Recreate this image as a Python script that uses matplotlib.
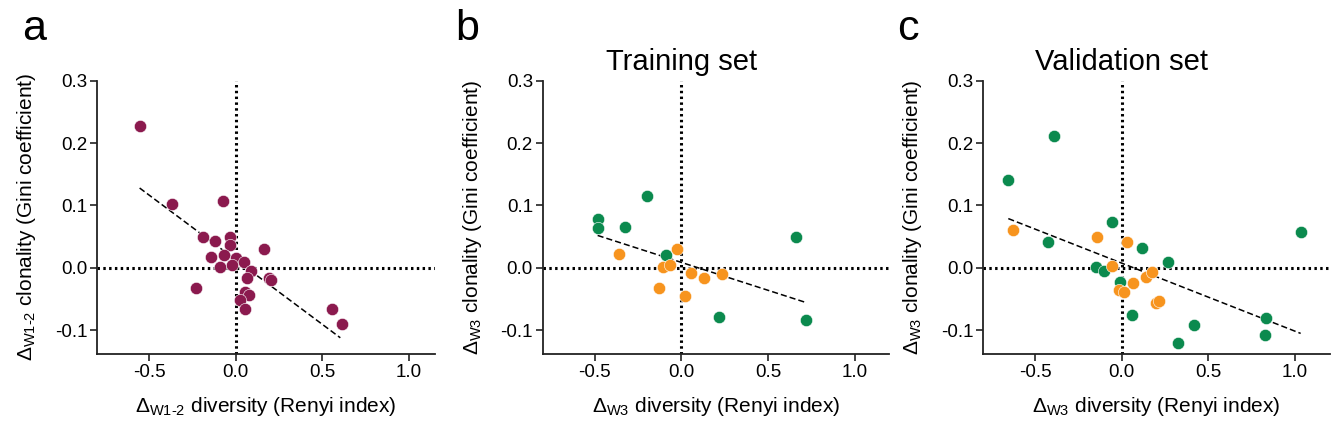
import matplotlib
matplotlib.use("Agg")
import matplotlib.pyplot as plt
import numpy as np

plt.rcParams['font.family'] = ['Liberation Sans', 'DejaVu Sans']
plt.rcParams['mathtext.fontset'] = 'custom'
plt.rcParams['mathtext.rm'] = 'Liberation Sans'
plt.rcParams['mathtext.it'] = 'Liberation Sans:italic'

# ---------------- data ----------------
# panel a
a_x = [-0.554, -0.368, -0.073, -0.189, -0.117, -0.035, -0.035, 0.163, -0.140, -0.069,
       0.004, 0.048, -0.092, -0.021, 0.087, 0.065, 0.190, 0.206, -0.231, 0.056,
       0.075, 0.023, 0.052, 0.558, 0.613]
a_y = [0.227, 0.103, 0.107, 0.050, 0.043, 0.050, 0.036, 0.030, 0.017, 0.020,
       0.016, 0.010, 0.001, 0.004, -0.005, -0.016, -0.016, -0.020, -0.033, -0.039,
       -0.044, -0.052, -0.066, -0.066, -0.090]
a_fit_x = [-0.554, 0.604]
a_fit_y = [0.128, -0.112]

# panel b (training set)
b_green_x = [-0.483, -0.479, -0.327, -0.198, -0.087, 0.664, 0.215, 0.721]
b_green_y = [0.079, 0.064, 0.066, 0.115, 0.020, 0.050, -0.0785, -0.083]
b_orange_x = [-0.360, -0.023, -0.106, -0.063, 0.056, 0.131, 0.235, -0.129, 0.023]
b_orange_y = [0.022, 0.031, 0.002, 0.004, -0.0075, -0.0155, -0.009, -0.032, -0.0455]
b_fit_x = [-0.483, 0.725]
b_fit_y = [0.052, -0.056]

# panel c (validation set)
c_green_x = [-0.654, -0.392, -0.427, -0.058, 0.117, 0.265, -0.147, -0.102, -0.010,
             0.059, 0.417, 0.323, 0.833, 0.827, 1.035]
c_green_y = [0.1415, 0.212, 0.042, 0.074, 0.032, 0.009, 0.002, -0.005, -0.022,
             -0.076, -0.092, -0.120, -0.081, -0.107, 0.057]
c_orange_x = [-0.627, -0.141, 0.029, -0.054, 0.138, 0.177, 0.065, -0.017, 0.013, 0.196, 0.215]
c_orange_y = [0.060, 0.049, 0.042, 0.003, -0.014, -0.006, -0.025, -0.035, -0.0385, -0.0556, -0.053]
c_fit_x = [-0.654, 1.033]
c_fit_y = [0.079, -0.105]

yticks = [-0.1, 0.0, 0.1, 0.2, 0.3]
ytick_labels = ['-0.1', '0.0', '0.1', '0.2', '0.3']
xticks = [-0.5, 0.0, 0.5, 1.0]
xtick_labels = ['-0.5', '0.0', '0.5', '1.0']

PURPLE = '#8B1A4E'
GREEN = '#0B8A4E'
ORANGE = '#F7941E'

W, H = 1339, 447
fig = plt.figure(figsize=(W / 100, H / 100), dpi=100)

PPU_X = 173.3
YTOP_PX = 80.7
YBOT_PX = 354.0
YLIM = (-0.138, 0.3)
LABEL_FS = 15


def make_ax(left_px, xlim):
    width_px = (xlim[1] - xlim[0]) * PPU_X
    ax = fig.add_axes([left_px / W, (H - YBOT_PX) / H, width_px / W, (YBOT_PX - YTOP_PX) / H])
    ax.set_xlim(*xlim)
    ax.set_ylim(*YLIM)
    for s in ['top', 'right']:
        ax.spines[s].set_visible(False)
    for s in ['left', 'bottom']:
        ax.spines[s].set_linewidth(1.3)
        ax.spines[s].set_color('#222222')
    ax.set_xticks(xticks)
    ax.set_xticklabels(xtick_labels)
    ax.set_yticks(yticks)
    ax.set_yticklabels(ytick_labels)
    ax.tick_params(axis='both', labelsize=13.5, length=5, width=1.2, color='#222222', pad=2)
    ax.axhline(0, color='black', lw=2.2, ls=(0, (0.8, 1.1)), zorder=1)
    ax.axvline(0, color='black', lw=2.2, ls=(0, (0.8, 1.1)), zorder=1)
    return ax


def sub_label(sub, rest):
    return 'Δ$_{\\mathregular{' + sub + '}}$ ' + rest

MS = 78

# panel a
ax1 = make_ax(97, (-0.8, 1.15))
ax1.plot(a_fit_x, a_fit_y, color='black', lw=1.1, ls=(0, (4, 2)), zorder=2)
ax1.scatter(a_x, a_y, s=MS, color=PURPLE, edgecolors='white', linewidths=0.4, zorder=3)
ax1.set_xlabel(sub_label('W1‐2', 'diversity (Renyi index)'), fontsize=LABEL_FS, labelpad=10)
ax1.set_ylabel(sub_label('W1‐2', 'clonality (Gini coefficient)'), fontsize=LABEL_FS, labelpad=12)

# panel b
ax2 = make_ax(542.7, (-0.8, 1.2))
ax2.plot(b_fit_x, b_fit_y, color='black', lw=1.1, ls=(0, (4, 2)), zorder=2)
ax2.scatter(b_green_x, b_green_y, s=MS, color=GREEN, edgecolors='white', linewidths=0.4, zorder=3)
ax2.scatter(b_orange_x, b_orange_y, s=MS, color=ORANGE, edgecolors='white', linewidths=0.4, zorder=3)
ax2.set_xlabel(sub_label('W3', 'diversity (Renyi index)'), fontsize=LABEL_FS, labelpad=10)
ax2.set_ylabel(sub_label('W3', 'clonality (Gini coefficient)'), fontsize=LABEL_FS, labelpad=12)
ax2.set_title('Training set', fontsize=21, pad=8, x=0.4)

# panel c
ax3 = make_ax(983, (-0.8, 1.2))
ax3.plot(c_fit_x, c_fit_y, color='black', lw=1.1, ls=(0, (4, 2)), zorder=2)
ax3.scatter(c_green_x, c_green_y, s=MS, color=GREEN, edgecolors='white', linewidths=0.4, zorder=3)
ax3.scatter(c_orange_x, c_orange_y, s=MS, color=ORANGE, edgecolors='white', linewidths=0.4, zorder=3)
ax3.set_xlabel(sub_label('W3', 'diversity (Renyi index)'), fontsize=LABEL_FS, labelpad=10)
ax3.set_ylabel(sub_label('W3', 'clonality (Gini coefficient)'), fontsize=LABEL_FS, labelpad=12)
ax3.set_title('Validation set', fontsize=21, pad=8, x=0.4)

# panel letters
for letter, xpx in [('a', 22), ('b', 455), ('c', 897)]:
    fig.text(xpx / W, 1 - 40 / H, letter, fontsize=31, ha='left', va='baseline')

fig.savefig('out.png', dpi=100)
